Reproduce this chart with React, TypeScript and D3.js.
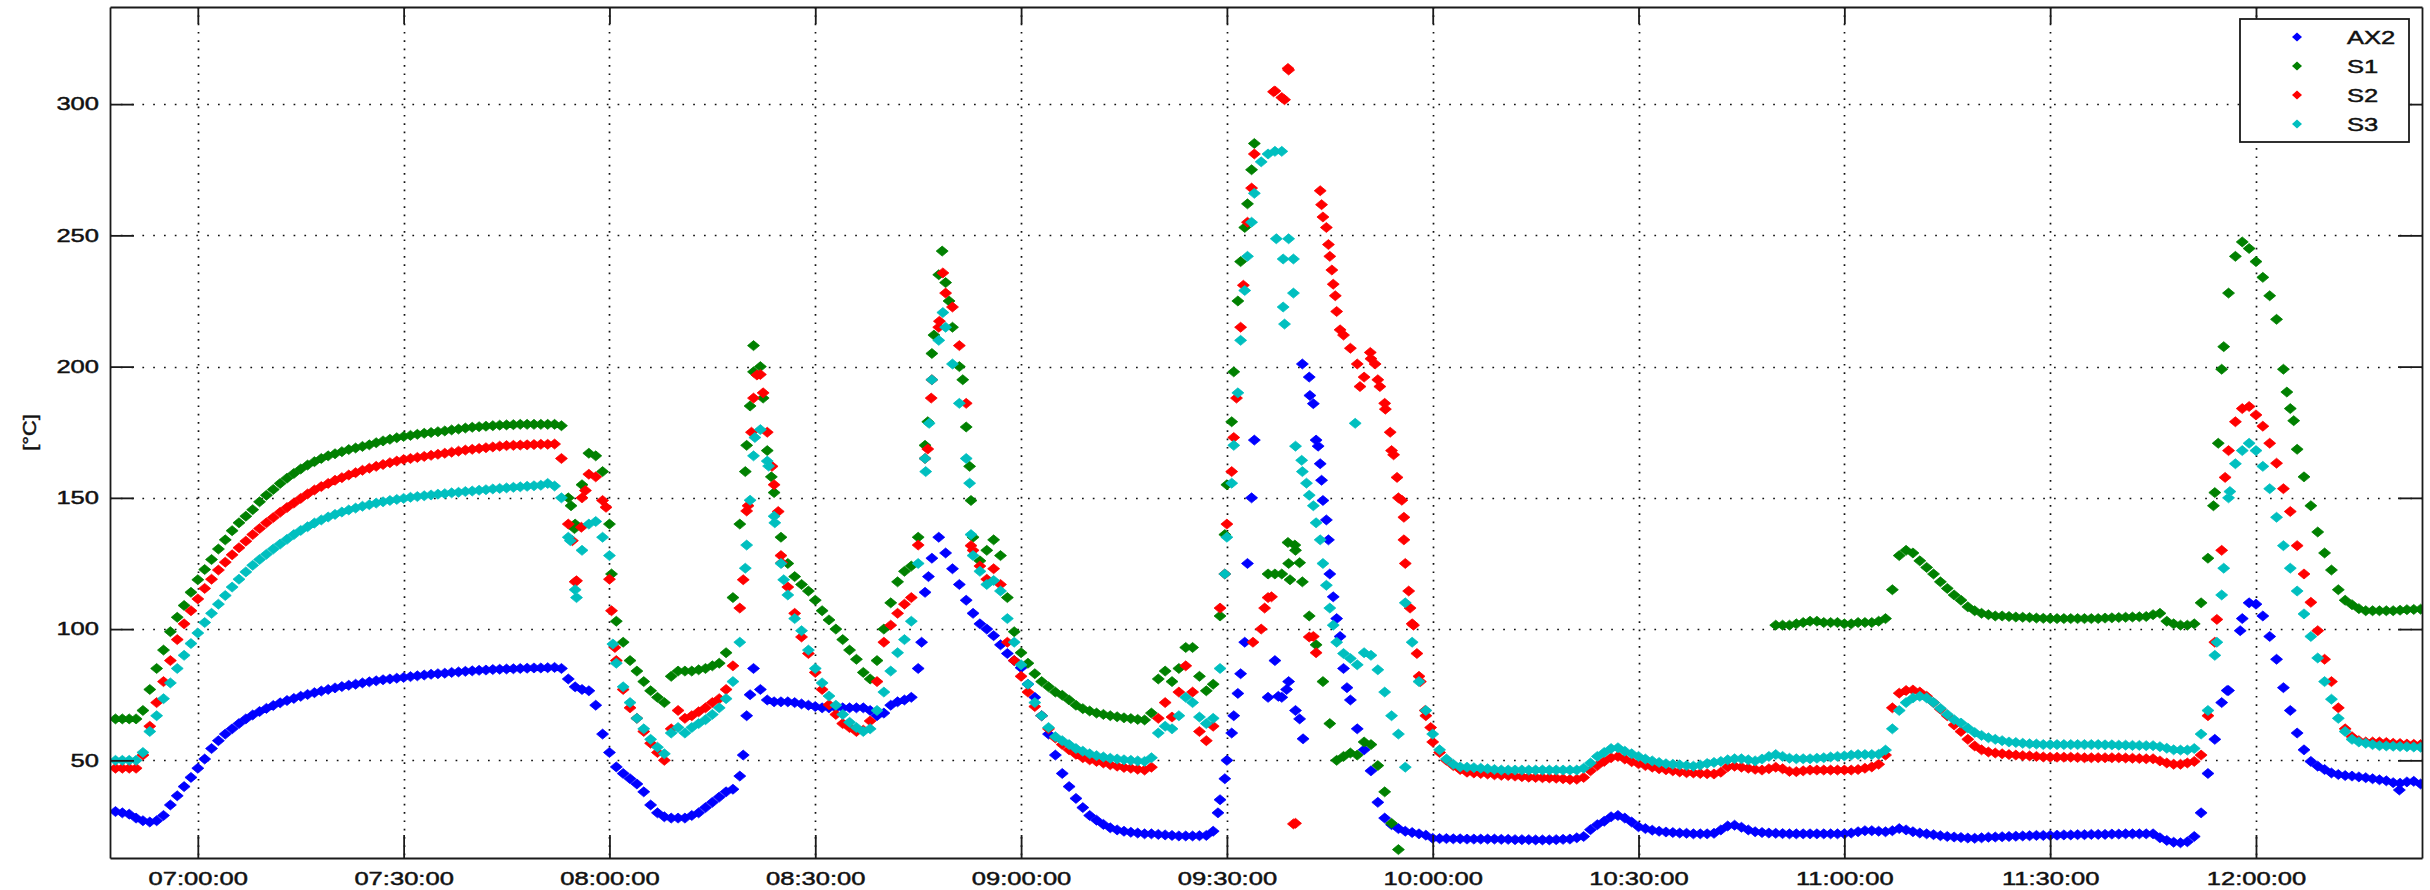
import React, { Component } from 'react';
import * as d3 from 'd3';

// one reading per minute, first one at 06:48, last one at 12:24
const firstMinute = 6 * 60 + 48;

const tickLabels = ['07:00:00', '07:30:00', '08:00:00', '08:30:00', '09:00:00', '09:30:00',
	'10:00:00', '10:30:00', '11:00:00', '11:30:00', '12:00:00'];
const yTicks = [50, 100, 150, 200, 250, 300];
const seriesNames = ['AX2', 'S1', 'S2', 'S3'];
const seriesColors = ['#0000ff', '#008000', '#ff0000', '#00bfbf'];

const ax2 = [
	30.5, 30, 29.5, 28, 27, 26.5, 27, 29, 33, 36.5,
	40, 43.5, 47, 50.5, 54.5, 57.5, 60, 62, 64, 65.8,
	67.3, 68.6, 69.8, 70.9, 71.9, 72.8, 73.6, 74.4, 75.1, 75.8,
	76.4, 77, 77.6, 78.1, 78.6, 79, 79.5, 79.9, 80.3, 80.7,
	81, 81.3, 81.6, 81.9, 82.2, 82.5, 82.8, 83, 83.2, 83.5,
	83.7, 83.9, 84.1, 84.3, 84.4, 84.6, 84.7, 84.8, 84.9, 85,
	85.1, 85.2, 85.2, 85.3, 85.4, 85, 81, 78, 77, 76.5,
	71, 60, 53, 47.5, 45, 43, 41, 38, 33, 30,
	28.5, 28, 28, 28, 29, 30, 32, 34, 36, 38,
	39, 44, 67, 85, 77, 73, 72.3, 72.3, 72.3, 72,
	71.5, 71, 70.5, 70, 70, 70, 70, 70, 70, 70,
	69, 67, 68, 71, 72.3, 73, 74, 85, 114, 127,
	135, 129, 123, 117, 111, 106, 102, 100, 97.5, 94,
	90.7, 88, 85.3, 79, 74, 67, 60, 52, 45, 40,
	35.5, 32, 29, 27.2, 25.6, 24.3, 23.5, 23, 22.6, 22.3,
	22, 22, 21.8, 21.6, 21.4, 21.2, 21.2, 21.2, 21.3, 21.4,
	23, 35, 50, 67, 83, 125, 172, null, 74, 88,
	74, 80, 69, 201, 196, 172, 149, 121, 104, 85,
	73, 62, 54, 46, 34, 28, 25.5, 24, 23, 22.5,
	22, 21.5, 20.3, 20.2, 20.2, 20.1, 20.1, 20, 20, 20,
	20, 20, 19.9, 19.9, 19.8, 19.8, 19.8, 19.7, 19.7, 19.7,
	19.8, 19.9, 20, 20.5, 21, 23.6, 25.5, 26.8, 28.5, 29,
	28, 26.5, 24.7, 24, 23.4, 23, 22.7, 22.5, 22.3, 22.2,
	22, 22, 22, 22.2, 23.5, 25, 25.3, 24.5, 23.5, 22.8,
	22.5, 22.3, 22.2, 22.1, 22, 22, 22, 22, 22, 22,
	22, 22, 22, 22.3, 22.8, 23.2, 23.2, 23, 22.8, 23.2,
	24, 23.5, 22.8, 22.3, 22, 21.7, 21.3, 21, 20.8, 20.6,
	20.4, 20.3, 20.5, 20.7, 20.8, 20.9, 21, 21.1, 21.2, 21.3,
	21.4, 21.4, 21.4, 21.5, 21.6, 21.6, 21.7, 21.7, 21.8, 21.8,
	21.8, 21.9, 21.9, 22, 22, 22, 22, 22, 20.5, 19.5,
	18.8, 18.6, 19, 21, 30, 45, 58, 72, 76.6, null,
	104, 110, 109.5, 105, 97.2, 88.5, 77.7, 69, 60.4, 54,
	49.6, 47.8, 46.5, 45.2, 44.6, 44.2, 44, 43.7, 43.4, 43,
	42.6, 42.2, 41.5, 41.3, 41.8, 42, 41
];

const s1 = [
	65.8, 65.8, 65.8, 65.8, 69, 77, 85, 92, 99, 104.5,
	109, 114, 118.8, 122.7, 126.5, 130.5, 134, 137.5, 140.5, 143,
	145.5, 148.5, 151, 153.2, 155.5, 157.5, 159.3, 161, 162.5, 163.8,
	165, 166, 166.8, 167.6, 168.4, 169, 169.6, 170.2, 171, 171.7,
	172.3, 172.9, 173.4, 173.8, 174.2, 174.6, 174.9, 175.2, 175.5, 175.9,
	176.2, 176.6, 176.9, 177.1, 177.3, 177.5, 177.7, 177.8, 177.9, 178,
	178, 178, 178, 178, 178, 177.5, 150, 140, 155, 167,
	166, 160, 140, 103, 95, 88, 84, 80, 76.5, 74,
	72, 82, 84, 84, 84, 84.5, 85, 86, 87, 91,
	112, 140, 170, 208, 200, 168, 152, 135, 125, 120,
	117, 114.5, 111, 107, 103.5, 100, 96, 92, 88.5, 83.5,
	81, 88, 100, 110, 118, 122, 124, 135, 170, 205,
	235, 232, 215, 200, 177, 135, 126, 130, 134, 128,
	112, 99, 91, 87, 83, 80, 78, 76, 74.8, 73,
	71, 69.7, 68.8, 68, 67.5, 67, 66.6, 66.2, 65.9, 65.6,
	65.4, 68, 81, 84, 80, 85, 93, 93, 82, 76.5,
	79, 105, 155, 198, 240, 262, 285, null, 121, 121,
	121, 125, 130, 118, 105, 94, 80, 64, 50, 51.5,
	52.8, 52, 57, 56, 48, 38, 26, 16, null, null,
	null, null, null, null, null, null, null, null, null, null,
	null, null, null, null, null, null, null, null, null, null,
	null, null, null, null, null, null, null, null, null, null,
	null, null, null, null, null, null, null, null, null, null,
	null, null, null, null, null, null, null, null, null, null,
	null, null, 101.5, 101.5, 101.5, 102, 102.5, 103, 103, 102.5,
	102.5, 102.5, 102, 102, 102.5, 102.5, 102.5, 103, 104, 115,
	128, 130, 129, 126, 123.5, 121, 118, 115.5, 113, 111,
	108.5, 107, 106, 105.5, 105, 105, 104.8, 104.6, 104.5, 104.4,
	104.2, 104.1, 104, 104, 104, 104, 104, 104, 104, 104,
	104.2, 104.3, 104.4, 104.5, 104.6, 104.7, 104.8, 105.5, 106, 103,
	102, 101.5, 101.5, 102, 110, 127, 152, 199, 228, 242,
	247.5, 245, 240, 234, 227, 218, 199, 184, 168.5, 158,
	147, 137, 129, 122.5, 115, 111, 109.3, 107.8, 107, 107,
	107, 107, 107, 107.2, 107.4, 107.5, 107.6
];

const s2 = [
	47, 47, 47, 47, 52, 63, 72, 80, 88, 96,
	102, 107, 111.5, 115.5, 119, 122.5, 125.5, 128.3, 131, 133.5,
	136, 138.3, 140.5, 142.5, 144.5, 146.3, 148, 149.8, 151.5, 153,
	154.3, 155.5, 156.7, 157.7, 158.7, 159.6, 160.5, 161.3, 162, 162.7,
	163.4, 164, 164.6, 165, 165.4, 165.8, 166.2, 166.6, 167, 167.4,
	167.8, 168.2, 168.5, 168.8, 169.1, 169.4, 169.7, 169.9, 170, 170.1,
	170.2, 170.3, 170.4, 170.4, 170.5, 165, 140, 118, 150, 159,
	158, 149, 119, 88, 77, 70, 66, 61, 56.5, 53,
	50, 62, 69, 66, 67, 68.5, 70, 72, 73.5, 77,
	86, 108, 145, 188, 197, 175, 155, 128, 116, 106,
	97, 90.7, 83.5, 77, 71.2, 67.5, 64, 62.5, 61, 61.5,
	65, 80, 95, 101.5, 106, 109.5, 112, 132, 165, 195,
	215, 228, 222.7, 208, 186, 130, 124, 119, 123, 117,
	95, 88, 82, 76, 70.5, 67, 62, 58.5, 56, 54,
	52.3, 51, 50.2, 49.6, 49, 48.3, 47.8, 47.3, 47, 46.6,
	46.3, 47.4, 66, 72, 66.5, 76, 86, 76, 61, 57.5,
	63, 108, 140, 173, 215, 255, 281, 100, 112, 305,
	302.5, 313, 26, null, 97, 91, 257, 242, 221, 212,
	207, 201, 196, 203, 195, 186, 168, 150, 125, 102,
	82, 67, 57, 53, 50, 48, 46.5, 45.5, 45.2, 45,
	44.8, 44.5, 44.3, 44.2, 44, 43.8, 43.6, 43.5, 43.4, 43.3,
	43.2, 43, 42.7, 42.8, 43.5, 46, 48, 49.6, 51, 51.5,
	50.5, 49.5, 48.7, 48, 47.4, 46.8, 46.4, 46, 45.6, 45.3,
	45.2, 45, 44.9, 44.8, 45.5, 47.5, 47.8, 47.4, 47, 46.6,
	46.3, 46.8, 47.4, 46.8, 45.8, 45.7, 46, 46.3, 46.3, 46.3,
	46.3, 46.3, 46.3, 46.3, 46.5, 47, 47.5, 48.5, 52, 70,
	75.6, 76.6, 76.8, 76, 74.4, 72, 69.5, 67, 63.5, 61,
	58, 55.5, 54, 53.2, 52.8, 52.5, 52.2, 52, 51.8, 51.7,
	51.5, 51.3, 51.2, 51.2, 51.2, 51.2, 51.1, 51, 51, 51,
	51, 51, 51, 50.9, 50.8, 50.7, 50.6, 50.6, 49.8, 49,
	48.5, 48.5, 49, 49.6, 52, 67, 95, 130, 168, 179,
	184, 184.8, 181.6, 177.3, 170.8, 163.2, 153.5, 144.8, 131.8, 121,
	110.2, 99.4, 88.5, 80, 70, 62, 59, 57.5, 57, 57,
	57, 56.8, 56.5, 56.4, 56.2, 56.1, 56
];

const s3 = [
	50, 50, 50, 50, 53, 61, 67, 73.5, 79.5, 85,
	90, 94.5, 98.5, 102.5, 106, 109.5, 112.8, 116, 119, 121.8,
	124.3, 126.5, 128.5, 130.5, 132.4, 134.2, 136, 137.6, 139, 140.4,
	141.6, 142.7, 143.7, 144.6, 145.4, 146.1, 146.8, 147.4, 148, 148.5,
	149, 149.4, 149.8, 150.2, 150.5, 150.8, 151.1, 151.4, 151.6, 151.9,
	152.1, 152.4, 152.6, 152.9, 153.1, 153.4, 153.6, 153.8, 154, 154.2,
	154.4, 154.6, 154.8, 155.5, 154.5, 150, 135, 115, 130, 140,
	141, 135, 128, 87, 78, 72, 66, 62, 58, 55,
	52.5, 60.4, 62.5, 60.4, 62.5, 64, 65.5, 67.5, 70, 73.5,
	80, 95, 132, 166, 176, 164, 143, 125, 113, 104,
	99.4, 92, 85, 79.5, 74.5, 71, 67.5, 64.5, 62.5, 61,
	62, 69, 76, 84, 91, 96, 103, 125, 165, 195,
	210, 215, 201, 186, 165, 128, 122, 117, 118.5, 114.5,
	104, 95, 86.4, 79, 72, 67, 62.5, 59, 57.5, 56,
	54.5, 53.5, 52.5, 51.8, 51.3, 50.8, 50.5, 50.2, 50, 49.8,
	49.6, 51, 60.4, 63, 62, 67, 74, 72, 66.5, 64,
	66, 85, 135, 170, 210, 242, 266, 278, 281, 282,
	282, 248.7, 169.7, 160, 151, 140.5, 125, 108, 95, 90.7,
	88.8, 86.4, 91, 90, 84.5, 76, 67, 60, 110, 95,
	80, 69, 60, 54, 50.5, 48.5, 47.5, 47.4, 47.2, 47,
	46.8, 46.5, 46.3, 46.3, 46.3, 46.3, 46.3, 46.3, 46.3, 46.3,
	46.3, 46.3, 46.3, 46.3, 47, 49, 51.5, 53, 54.5, 54.8,
	53.5, 52.5, 51.5, 50.5, 49.8, 49.2, 48.7, 48.5, 48.3, 48,
	47.8, 48.2, 48.8, 49.2, 49.6, 50.2, 50.6, 50.6, 50.2, 49.8,
	50.5, 51.5, 52.2, 51.5, 50.8, 50.6, 50.6, 50.6, 50.8, 51,
	51.3, 51.5, 51.7, 52, 52.2, 52.2, 52.2, 52.3, 53.9, 62,
	69, 72, 73.8, 74.4, 73.8, 72, 69.8, 67.5, 65.5, 64.2,
	62.3, 60.6, 59.5, 58.6, 58, 57.5, 57, 56.8, 56.5, 56.3,
	56.2, 56, 56, 56, 56, 56, 56, 56, 56, 56,
	55.9, 55.9, 55.8, 55.8, 55.7, 55.7, 55.6, 55.6, 55.2, 54.6,
	54, 53.9, 53.9, 54.5, 60, 69, 90, 113, 150, 163,
	168, 170.8, 168, 162, 153.5, 142.6, 131.8, 123.2, 114.5, 105.8,
	97.2, 89, 80, 73.3, 66, 61, 58, 57, 56.5, 56,
	55.6, 55.5, 55.4, 55.3, 55.2, 55.1, 55
];

// extra readings between the minutes (minute of day, value), mostly on steep parts and the 09:35 spread
const ax2Extra = [
	[499.5, 52], [500.5, 75], [525.5, 95], [526.5, 120], [568.7, 30], [569.7, 43], [570.7, 60.4],
	[571.6, 75.5], [572.6, 95], [573.6, 150], [577.5, 74.4], [578.7, 77], [580.6, 65.8], [581.1, 58.2],
	[582.1, 189], [582.6, 185.9], [583.3, 169.7], [583.6, 163], [583.8, 156.7], [584.5, 141.6],
	[584.8, 134], [585.5, 112.3], [586.5, 97.2], [587.5, 77.7], [715.8, 76.6], [717.7, 99.4], [740.9, 38.7]
];
const s1Extra = [
	[474.4, 147], [474.9, 138.3], [480.3, 121], [499.8, 160], [500.5, 185], [501.0, 198], [502.4, 188],
	[503.6, 158], [526.4, 179], [527.3, 212], [528.5, 244], [529.5, 225], [531.5, 195], [532.5, 162],
	[532.7, 149], [569.7, 136], [570.7, 179], [571.6, 225], [572.6, 253], [573.6, 275], [578.9, 133],
	[579.2, 118.8], [579.9, 132], [580.6, 125.3], [713.8, 147], [714.5, 170.8], [715.3, 207.6],
	[724.5, 190.3], [725.5, 179.4]
];
const s2Extra = [
	[474.6, 133.7], [475.2, 118.4], [475.9, 138.8], [476.5, 152.8], [479.5, 146.4], [480.3, 107],
	[480.8, 93], [499.5, 118.8], [500.2, 147], [500.7, 175], [501.5, 196.8], [502.4, 190], [503.7, 162],
	[504.6, 144.8], [505.1, 125.3], [526.4, 168.6], [526.9, 188], [528.1, 217.3], [528.6, 235.7],
	[532.7, 131.8], [569.7, 121], [570.7, 160], [571.4, 188], [572.4, 231], [573.6, 268], [573.8, 95],
	[575.5, 108], [576.5, 112.3], [576.8, 304.7], [578.4, 301.7], [578.9, 313.6], [579.7, 25.8],
	[582.6, 97.2], [583.6, 267], [583.8, 261.7], [584.5, 253], [584.8, 246.5], [585.3, 236.8],
	[585.5, 231.4], [585.8, 227], [586.5, 214], [589.4, 192.4], [590.9, 205.4], [591.6, 201],
	[592.3, 192.4], [593.1, 183.8], [593.8, 175], [594.3, 166.4], [594.8, 157.8], [595.5, 149.1],
	[595.8, 142.6], [595.8, 134], [596.5, 114.5], [596.7, 108], [597.2, 101.5], [597.7, 90.7],
	[598.2, 80], [598.9, 69], [599.7, 62.5], [714.3, 103.7], [715.5, 157.8]
];
const s3Extra = [
	[474.3, 133.7], [475.2, 112], [480.5, 94.3], [499.8, 123.2], [500.5, 149.1], [501.2, 173],
	[503.2, 162.1], [504.1, 140.5], [505.4, 118.8], [526.1, 160], [526.6, 178.4], [528.6, 220.6],
	[532.5, 155.6], [532.7, 136], [569.7, 121], [570.7, 155.6], [571.6, 190], [572.6, 229], [573.6, 255],
	[577.2, 248.7], [578.2, 241], [578.2, 222.7], [578.4, 216.2], [579.7, 241], [579.7, 228],
	[580.9, 164.3], [581.6, 155.6], [582.6, 147], [583.6, 134], [584.5, 116.7], [585.5, 101.5],
	[588.7, 178.4], [596, 47.4], [714.3, 95], [715.3, 123.2], [716.2, 152.4]
];

const allValues = [ax2, s1, s2, s3];
const allExtra = [ax2Extra, s1Extra, s2Extra, s3Extra];

const dayAt = (minute) => new Date(2013, 4, 14, 0, 0, Math.round(minute * 60));
const parseTick = d3.timeParse('%Y-%m-%d %H:%M:%S');

const FONT = '"Liberation Sans", Arial, Helvetica, sans-serif';
const STRETCH = 1.42; // the old plot font is very wide

class Chart extends Component {
	constructor(props) {
		super(props);
		this.width = 2430;
		this.height = 890;
		this.margin = { top: 7, right: 8, bottom: 32, left: 110 };
		this.plotW = this.width - this.margin.left - this.margin.right;
		this.plotH = this.height - this.margin.top - this.margin.bottom;
		this.node = null;
	}

	componentDidMount() {
		this.drawChart();
	}

	styleText(sel) {
		sel.attr('font-family', FONT).attr('font-size', 18).attr('fill', '#111')
			.attr('stroke', '#111').attr('stroke-width', 0.45);
	}

	drawChart() {
		const svg = d3.select(this.node);
		svg.selectAll('*').remove();
		const w = this.plotW, h = this.plotH;

		const x = d3.scaleTime()
			.domain([dayAt(407.2), dayAt(744.2)])
			.range([0, w]);
		const y = d3.scaleLinear()
			.domain([12.8, 337])
			.range([h, 0]);

		const tickDates = tickLabels.map(t => parseTick('2013-05-14 ' + t));

		svg.append('defs').append('clipPath').attr('id', 'plot-clip')
			.append('rect').attr('width', w).attr('height', h);

		const g = svg.append('g')
			.attr('transform', 'translate(' + this.margin.left + ',' + this.margin.top + ')');

		// dotted grid
		g.append('g').selectAll('line').data(tickDates).join('line')
			.attr('x1', d => Math.round(x(d)) + 0.5).attr('x2', d => Math.round(x(d)) + 0.5)
			.attr('y1', 0).attr('y2', h)
			.attr('stroke', '#111').attr('stroke-width', 1.7).attr('stroke-dasharray', '1.7,6.6');
		g.append('g').selectAll('line').data(yTicks).join('line')
			.attr('y1', d => Math.round(y(d)) + 0.5).attr('y2', d => Math.round(y(d)) + 0.5)
			.attr('x1', 0).attr('x2', w)
			.attr('stroke', '#111').attr('stroke-width', 1.7).attr('stroke-dasharray', '1.7,9.1');

		// diamond markers, one path per series
		const diamond = (px, py, rx, ry) =>
			'M' + px + ',' + (py - ry) + 'l' + rx + ',' + ry + 'l' + (-rx) + ',' + ry + 'l' + (-rx) + ',' + (-ry) + 'z';
		const marks = g.append('g').attr('clip-path', 'url(#plot-clip)');
		allValues.forEach((vals, si) => {
			const pts = vals
				.map((v, i) => [firstMinute + i, v])
				.filter(p => p[1] !== null)
				.concat(allExtra[si]);
			marks.append('path')
				.attr('d', pts.map(p => diamond(x(dayAt(p[0])), y(p[1]), 6, 5)).join(''))
				.attr('fill', seriesColors[si])
				.attr('stroke', seriesColors[si])
				.attr('stroke-width', 0.8)
				.attr('stroke-linejoin', 'round');
		});

		// axes, ticks pointing inwards like the original
		const fmt = d3.timeFormat('%H:%M:%S');
		const bottom = g.append('g').attr('transform', 'translate(0,' + h + ')')
			.call(d3.axisBottom(x).tickValues(tickDates).tickFormat(fmt)
				.tickSize(-23).tickSizeOuter(0).tickPadding(14));
		g.append('g')
			.call(d3.axisTop(x).tickValues(tickDates).tickFormat(() => '')
				.tickSize(-17).tickSizeOuter(0));
		const left = g.append('g')
			.call(d3.axisLeft(y).tickValues(yTicks).tickSize(-24).tickSizeOuter(0).tickPadding(11));
		g.append('g').attr('transform', 'translate(' + w + ',0)')
			.call(d3.axisRight(y).tickValues(yTicks).tickFormat(() => '')
				.tickSize(-24).tickSizeOuter(0));

		g.selectAll('.domain, .tick line')
			.attr('stroke', '#1a1a1a').attr('stroke-width', 1.8);
		this.styleText(g.selectAll('.tick text'));
		bottom.selectAll('.tick text').attr('transform', 'scale(' + STRETCH + ',1)');
		left.selectAll('.tick text')
			.attr('x', -11 / STRETCH)
			.attr('transform', 'scale(' + STRETCH + ',1)');

		// y label
		const yl = svg.append('text')
			.attr('transform', 'translate(29,' + (this.margin.top + h / 2) + ') rotate(-90) scale(1.15,1)')
			.attr('text-anchor', 'middle').attr('dy', '0.35em')
			.text('[°C]');
		this.styleText(yl);
		yl.attr('font-size', 19);

		// legend
		const lg = svg.append('g').attr('transform', 'translate(2240,19)');
		lg.append('rect').attr('width', 169).attr('height', 123)
			.attr('fill', '#fff').attr('stroke', '#1a1a1a').attr('stroke-width', 1.8);
		seriesNames.forEach((name, i) => {
			const ry = 18 + i * 29;
			lg.append('path').attr('d', diamond(57, ry, 5, 4.5)).attr('fill', seriesColors[i]);
			const t = lg.append('text')
				.attr('transform', 'translate(107,' + (ry + 6.5) + ') scale(' + STRETCH + ',1)')
				.text(name);
			this.styleText(t);
		});
	}

	render() {
		return (
			<svg ref={n => (this.node = n)} width={this.width} height={this.height}
				style={{ position: 'absolute', left: 0, top: 0, background: '#fff' }} />
		);
	}
}

export default function App() {
	return <Chart />;
}
